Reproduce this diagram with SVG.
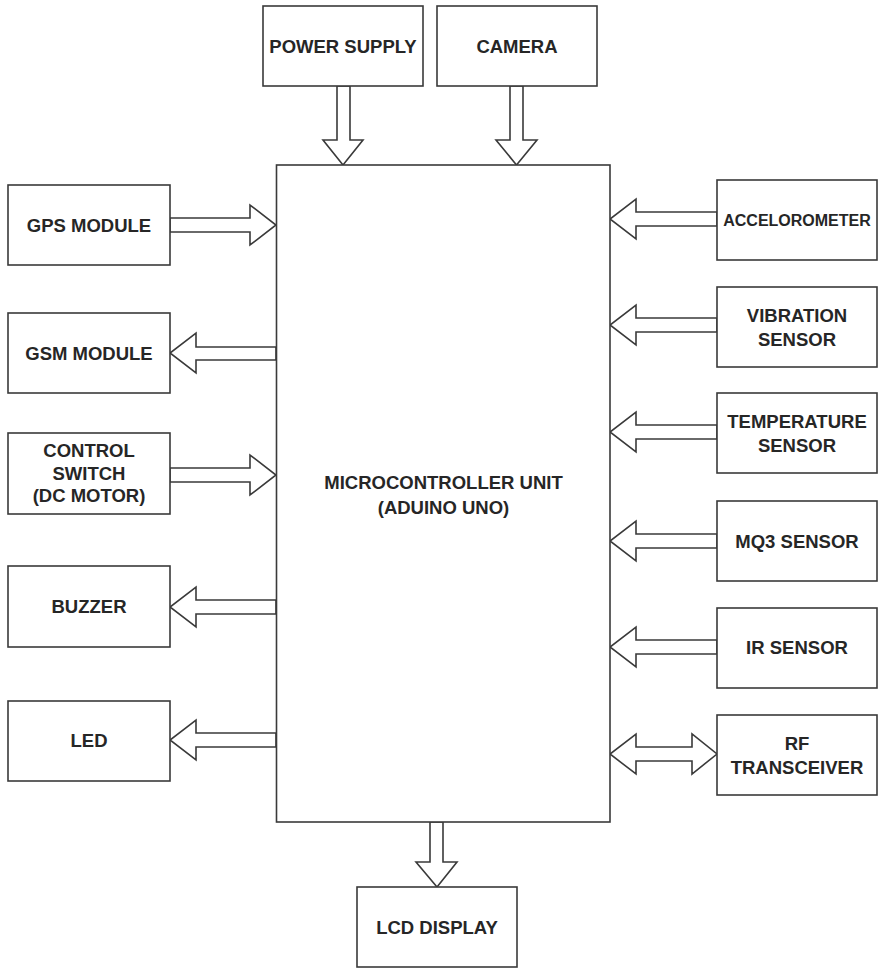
<svg xmlns="http://www.w3.org/2000/svg" width="878" height="968" viewBox="0 0 878 968">
<style>
.box{fill:#fff;stroke:#3a3a3a;stroke-width:1.6}
.arr{fill:#fff;stroke:#3a3a3a;stroke-width:1.6;stroke-linejoin:miter}
text{font-family:"Liberation Sans",Arial,sans-serif;font-weight:bold;font-size:18.5px;fill:#262626;text-anchor:middle}
.sm{font-size:16px}
</style>
<rect width="878" height="968" fill="#fff"/>
<g id="connectors">
<polygon class="arr" points="337,86 350,86 350,140 363,140 343,165 323,140 337,140"/>
<polygon class="arr" points="510,86 523,86 523,140 537,140 516.5,165 496,140 510,140"/>
<polygon class="arr" points="170,218 250,218 250,205 276,225 250,245 250,232 170,232"/>
<polygon class="arr" points="276,347 196,347 196,333 170,353 196,373 196,360 276,360"/>
<polygon class="arr" points="170,468 250,468 250,455 276,475 250,495 250,482 170,482"/>
<polygon class="arr" points="276,600 196,600 196,587 170,607 196,627 196,614 276,614"/>
<polygon class="arr" points="276,733 196,733 196,720 170,740 196,760 196,747 276,747"/>
<polygon class="arr" points="717,212 636,212 636,199 610,219 636,239 636,226 717,226"/>
<polygon class="arr" points="717,318 636,318 636,305 610,325 636,345 636,332 717,332"/>
<polygon class="arr" points="717,425 636,425 636,412 610,432 636,452 636,439 717,439"/>
<polygon class="arr" points="717,534 636,534 636,521 610,541 636,561 636,548 717,548"/>
<polygon class="arr" points="717,640 636,640 636,627 610,647 636,667 636,654 717,654"/>
<polygon class="arr" points="636,747 692,747 692,734 717,754 692,774 692,761 636,761 636,774 610,754 636,734"/>
<polygon class="arr" points="430,822 443,822 443,862 457,862 437,887 416,862 430,862"/>
</g>
<g id="mcu"><rect class="box" x="276.5" y="165" width="333.5" height="657"/>
<text x="443.5" y="489">MICROCONTROLLER UNIT</text><text x="443.5" y="514">(ADUINO UNO)</text></g>
<g id="power"><rect class="box" x="263" y="6" width="160" height="80"/><text x="343" y="53">POWER SUPPLY</text></g>
<g id="camera"><rect class="box" x="437" y="6" width="160" height="80"/><text x="517" y="53">CAMERA</text></g>
<g id="gps"><rect class="box" x="8" y="185" width="162" height="80"/><text x="89" y="232">GPS MODULE</text></g>
<g id="gsm"><rect class="box" x="8" y="313" width="162" height="80"/><text x="89" y="360">GSM MODULE</text></g>
<g id="control"><rect class="box" x="8" y="433" width="162" height="81"/><text x="89" y="457">CONTROL</text><text x="89" y="480">SWITCH</text><text x="89" y="502">(DC MOTOR)</text></g>
<g id="buzzer"><rect class="box" x="8" y="566" width="162" height="81"/><text x="89" y="613">BUZZER</text></g>
<g id="led"><rect class="box" x="8" y="701" width="162" height="80"/><text x="89" y="747">LED</text></g>
<g id="accel"><rect class="box" x="717" y="180" width="160" height="80"/><text class="sm" x="797" y="226">ACCELOROMETER</text></g>
<g id="vibration"><rect class="box" x="717" y="287" width="160" height="80"/><text x="797" y="322">VIBRATION</text><text x="797" y="346">SENSOR</text></g>
<g id="temperature"><rect class="box" x="717" y="393" width="160" height="80"/><text x="797" y="428">TEMPERATURE</text><text x="797" y="452">SENSOR</text></g>
<g id="mq3"><rect class="box" x="717" y="501" width="160" height="80"/><text x="797" y="548">MQ3 SENSOR</text></g>
<g id="ir"><rect class="box" x="717" y="608" width="160" height="80"/><text x="797" y="654">IR SENSOR</text></g>
<g id="rf"><rect class="box" x="717" y="715" width="160" height="80"/><text x="797" y="750">RF</text><text x="797" y="774">TRANSCEIVER</text></g>
<g id="lcd"><rect class="box" x="357" y="887" width="160" height="80"/><text x="437" y="934">LCD DISPLAY</text></g>
</svg>
